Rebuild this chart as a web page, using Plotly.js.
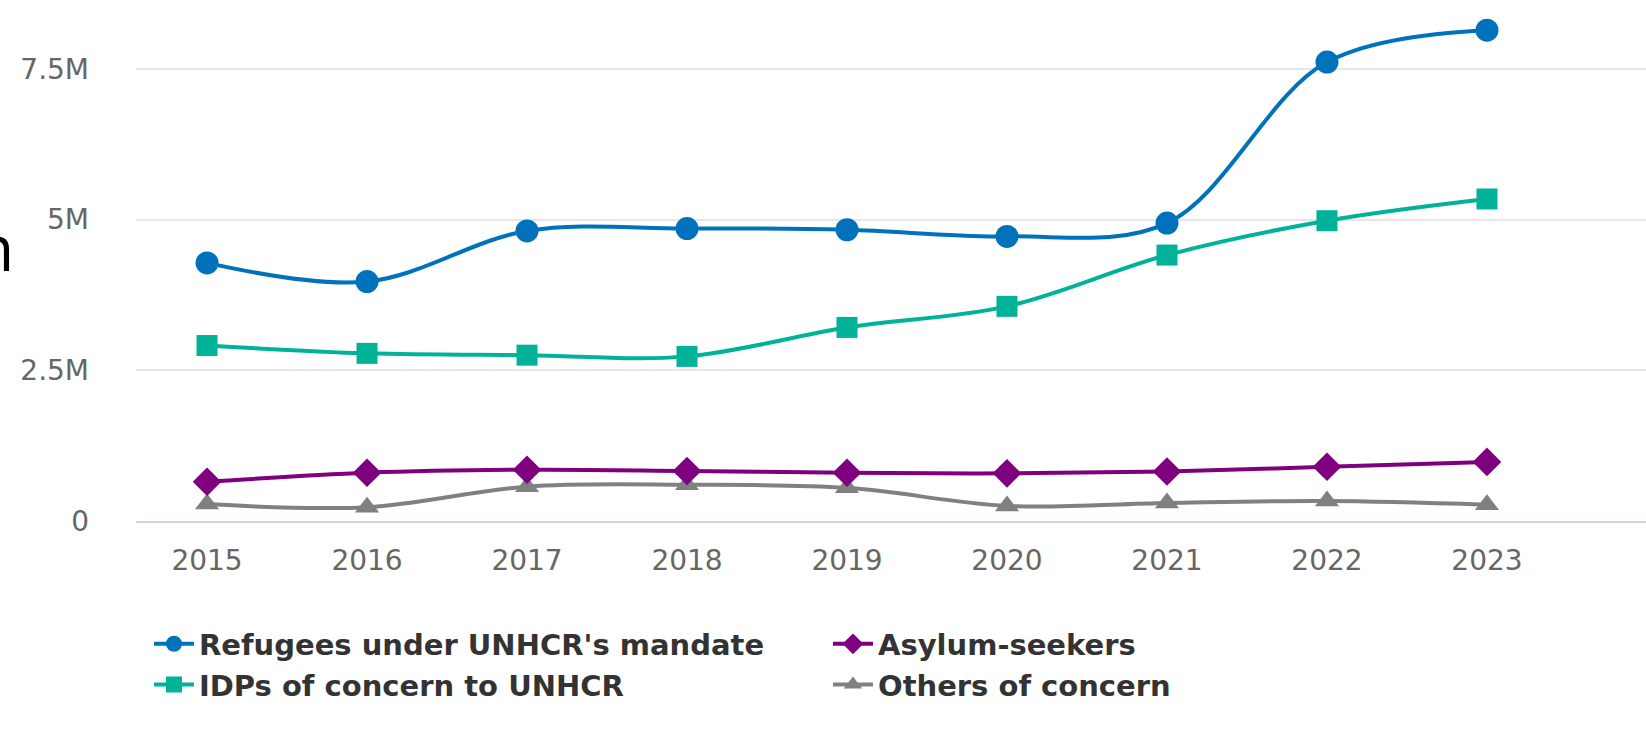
<!DOCTYPE html>
<html>
<head>
<meta charset="utf-8">
<script src="https://cdn.plot.ly/plotly-3.0.1.min.js"></script>
<style>
html,body{margin:0;padding:0;background:#fff;}
#chart{width:1646px;height:736px;}
</style>
</head>
<body>
<div id="chart"></div>
<script>
const years = [2015, 2016, 2017, 2018, 2019, 2020, 2021, 2022, 2023];
const refugees = [4.28e6, 3.97e6, 4.81e6, 4.85e6, 4.83e6, 4.72e6, 4.94e6, 7.61e6, 8.14e6];
const idps = [2.91e6, 2.78e6, 2.75e6, 2.73e6, 3.21e6, 3.56e6, 4.41e6, 4.98e6, 5.34e6];
const asylum = [0.65e6, 0.80e6, 0.85e6, 0.83e6, 0.80e6, 0.79e6, 0.82e6, 0.90e6, 0.98e6];
const others = [0.28e6, 0.23e6, 0.57e6, 0.60e6, 0.55e6, 0.25e6, 0.30e6, 0.33e6, 0.27e6];
const seriesNames = ["Refugees under UNHCR's mandate", "IDPs of concern to UNHCR", "Asylum-seekers", "Others of concern"];
const yTickVals = [0, 2.5e6, 5e6, 7.5e6];
const yTickText = ["0", "2.5M", "5M", "7.5M"];

function mk(name, y, color, symbol, size, rank) {
  return {
    type: 'scatter', mode: 'lines+markers', name: name, x: years, y: y,
    line: {color: color, width: 4, shape: 'spline', smoothing: 1},
    marker: {color: color, symbol: symbol, size: size},
    legendrank: rank
  };
}

const data = [
  mk(seriesNames[3], others, '#808080', 'triangle-up', 21, 4),
  mk(seriesNames[2], asylum, '#7F007F', 'diamond', 22, 2),
  mk(seriesNames[1], idps, '#00B398', 'square', 21, 3),
  mk(seriesNames[0], refugees, '#0072BC', 'circle', 23, 1)
];

const layout = {
  width: 1646, height: 736,
  margin: {l: 136, r: 0, t: 0, b: 215},
  paper_bgcolor: '#fff', plot_bgcolor: '#fff',
  showlegend: true,
  font: {family: 'DejaVu Sans, sans-serif', color: '#666666'},
  xaxis: {
    range: [2014.556, 2023.994],
    tickvals: years, ticktext: years.map(String),
    showgrid: false, zeroline: false,
    showline: true, linecolor: '#ccd6eb', linewidth: 2,
    ticks: '', tickfont: {size: 28, color: '#666666', family: 'DejaVu Sans, sans-serif'},
    ticklabelstandoff: 13,
    fixedrange: true
  },
  yaxis: {
    range: [0, 8.64e6],
    tickvals: yTickVals, ticktext: yTickText,
    showgrid: true, gridcolor: '#e6e6e6', gridwidth: 2,
    zeroline: false, showline: false, ticks: '',
    tickfont: {size: 28, color: '#666666', family: 'DejaVu Sans, sans-serif'},
    ticklabelstandoff: 46,
    fixedrange: true
  },
  legend: {
    orientation: 'h', x: 0.0086, xanchor: 'left', y: -0.187, yanchor: 'top',
    font: {size: 29, color: '#333333', family: 'DejaVu Sans, sans-serif', weight: 'bold'},
    entrywidth: 624, traceorder: 'normal',
    bgcolor: 'rgba(0,0,0,0)', tracegroupgap: 0, itemwidth: 40
  },
  annotations: [{
    text: 'n', xref: 'paper', yref: 'paper', x: -0.0795, y: 0.527,
    xanchor: 'right', yanchor: 'middle', showarrow: false,
    font: {size: 64, color: '#000000', family: 'Open Sans, sans-serif'}
  }]
};

Plotly.newPlot('chart', data, layout, {displayModeBar: false, staticPlot: true});
</script>
</body>
</html>
